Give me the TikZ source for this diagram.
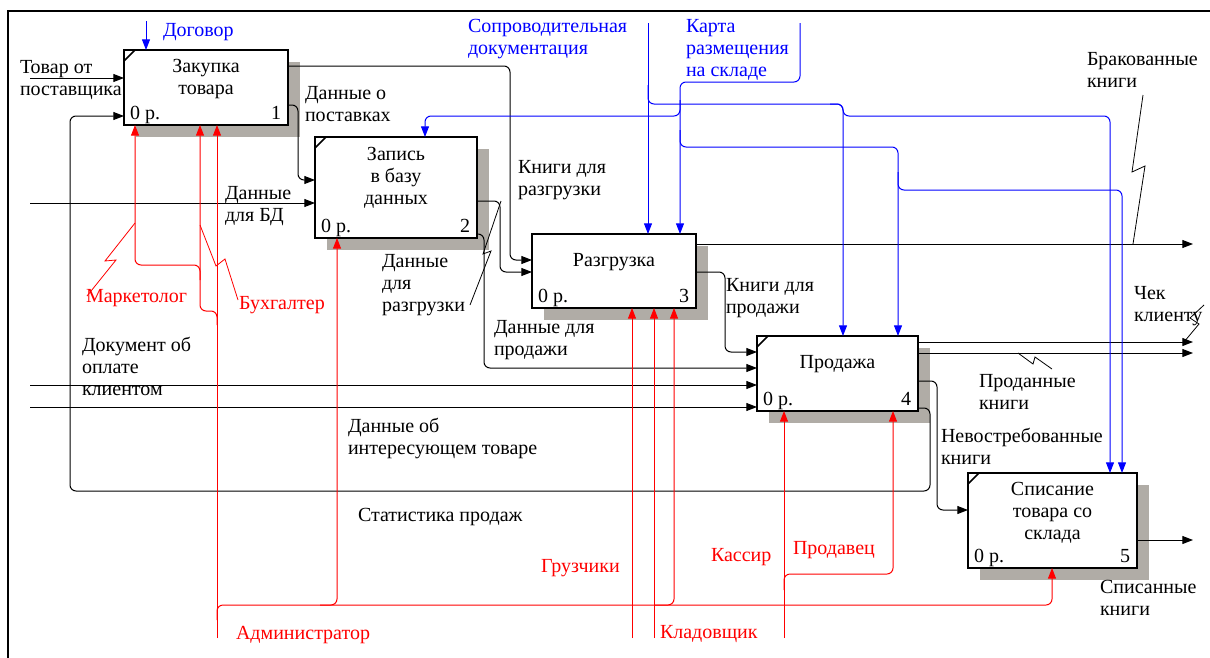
\documentclass[tikz,border=0pt]{standalone}
\usepackage{fontspec}
\setmainfont{Liberation Serif}
\usetikzlibrary{arrows.meta,calc}
\pgfdeclarelayer{background}
\pgfsetlayers{background,main}
\definecolor{mechred}{RGB}{255,0,0}
\definecolor{ctrlblue}{RGB}{0,0,255}
\definecolor{stipple}{RGB}{176,172,166}
\begin{document}
\begin{tikzpicture}[x=0.75pt,y=-0.75pt,
  every node/.style={inner sep=0pt, outer sep=0pt, font=\fontsize{15pt}{16.75pt}\selectfont},
  funcbox/.style 2 args={draw, line width=1.5pt, fill=white,
    minimum width=#1*0.75pt, minimum height=#2*0.75pt},
  arrowend/.style={-{Triangle[length=8pt,width=6pt]}},
  flow/.style={draw=black, line width=0.75pt, rounded corners=4.5pt},
  ctrl/.style={draw=ctrlblue, line width=0.75pt, rounded corners=4.5pt},
  mech/.style={draw=mechred, line width=0.75pt, rounded corners=4.5pt},
  squig/.style={draw=black, line width=0.6pt},
  rsquig/.style={draw=mechred, line width=0.6pt},
  lbl/.style={anchor=north west, align=left},
  boxtitle/.style={anchor=north, align=center},
]
\useasboundingbox (0,0) rectangle (1210,657);

% frame
\draw[line width=1.5pt] (8,662) -- (8,11) -- (1214,11);

% activity boxes
\node[funcbox={164}{75}]  (b1) at (206,87.5) {};
\node[funcbox={162}{101}] (b2) at (396,187.5) {};
\node[funcbox={164}{74}]  (b3) at (614,271) {};
\node[funcbox={161}{75}]  (b4) at (837.5,373.5) {};
\node[funcbox={169}{95}]  (b5) at (1052.5,520.5) {};

\begin{pgfonlayer}{background}
  \foreach \bx in {b1,b2,b3,b4,b5}
    \fill[stipple] ($(\bx.north west)+(12,12)$) rectangle ($(\bx.south east)+(12,12)$);
\end{pgfonlayer}

\foreach \bx in {b1,b2,b4,b5}
  \draw[line width=1.1pt] ($(\bx.north west)+(0,11)$) -- ($(\bx.north west)+(11,0)$);

% box contents
\node[boxtitle] (n1) at ($(b1.north)+(0,9)$) {Закупка\\товара};
\node[boxtitle] (n2) at ($(b2.north)+(0,10)$) {Запись\\в базу\\данных};
\node[boxtitle] (n3) at ($(b3.north)+(0,19)$) {Разгрузка};
\node[boxtitle] (n4) at ($(b4.north)+(0,19)$) {Продажа};
\node[boxtitle] (n5) at ($(b5.north)+(0,9)$) {Списание\\товара со\\склада};
\foreach \bx/\num in {b1/1,b2/2,b3/3,b4/4,b5/5}{
  \node[anchor=base west] (c\bx) at ($(\bx.south west)+(6,-6)$) {0 р.};
  \node[anchor=base east] (k\bx) at ($(\bx.south east)+(-7,-6)$) {\num};
}

% inputs from the border
\coordinate (inA) at (30,78);
\coordinate (inB) at (30,203);
\coordinate (inC) at (30,385);
\coordinate (inD) at (30,407);
\draw[flow,arrowend] (inA) -- (b1.west |- inA);
\draw[flow,arrowend] (inB) -- (b2.west |- inB);
\draw[flow,arrowend] (inC) -- (b4.west |- inC);
\draw[flow,arrowend] (inD) -- (b4.west |- inD);

% box to box flows
\draw[flow,arrowend] (b1.east |- 0,105) -- (298,105) -- (298,180) -- (b2.west |- 0,180);
\draw[flow,arrowend] (b1.east |- 0,66) -- (510,66) -- (510,260) -- (b3.west |- 0,260);
\draw[flow,arrowend] (b2.east |- 0,201) -- (500,201) -- (500,272) -- (b3.west |- 0,272);
\draw[flow,arrowend] (b2.east |- 0,234) -- (484,234) -- (484,368) -- (b4.west |- 0,368);
\draw[flow,arrowend] (b3.east |- 0,272) -- (725,272) -- (725,352) -- (b4.west |- 0,352);
\draw[flow,arrowend] (b4.east |- 0,381) -- (937,381) -- (937,510) -- (b5.west |- 0,510);
\draw[flow,arrowend] (b4.east |- 0,408) -- (930,408) -- (930,491) -- (70,491) -- (70,116) -- (b1.west |- 0,116);

% outputs to the border
\coordinate (outA) at (1193,244);
\coordinate (outB) at (1193,342);
\coordinate (outC) at (1193,353);
\coordinate (outD) at (1193,540);
\draw[flow,arrowend] (b3.east |- outA) -- (outA);
\draw[flow,arrowend] (b4.east |- outB) -- (outB);
\draw[flow,arrowend] (b4.east |- outC) -- (outC);
\draw[flow,arrowend] (b5.east |- outD) -- (outD);

% label leaders
\draw[squig] (470,305) -- (491,251) -- (483,254) -- (501,201);
\draw[squig] (1143,95) -- (1132,172) -- (1145,166) -- (1133,244);
\draw[squig] (1204,305) -- (1190,318) -- (1199,324) -- (1184,342);
\draw[squig] (1018,353) -- (1033,364) -- (1035,357) -- (1052,369);
\draw[rsquig] (87,296) -- (116,260) -- (105,261) -- (135,223);
\draw[rsquig] (238,300) -- (225,259) -- (216,266) -- (200,225);

% controls
\coordinate (cA) at (146,21);
\coordinate (cB) at (648,23);
\coordinate (cC) at (800,23);
\draw[ctrl,arrowend] (cA) -- (b1.north -| cA);
\draw[ctrl,arrowend] (cB) -- (b3.north -| cB);
\draw[ctrl,arrowend] (648,85) -- (648,104) -- (843,104) -- (b4.north -| 843,0);
\draw[ctrl,arrowend] (830,104) -- (843,104) -- (843,116) -- (1110,116) -- (b5.north -| 1110,0);
\draw[ctrl,arrowend] (cC) -- (800,82) -- (680,82) -- (b3.north -| 680,0);
\draw[ctrl,arrowend] (680,100) -- (680,116) -- (425,116) -- (b2.north -| 425,0);
\draw[ctrl,arrowend] (680,130) -- (680,147) -- (898,147) -- (b4.north -| 898,0);
\draw[ctrl,arrowend] (898,172) -- (898,190) -- (1122,190) -- (b5.north -| 1122,0);

% mechanisms
\coordinate (mA) at (217,638);
\coordinate (mB) at (632,638);
\coordinate (mC) at (654,638);
\coordinate (mD) at (784,638);
\draw[mech,arrowend] (mA) -- (b1.south -| mA);
\draw[mech,arrowend] (217,325) -- (217,311) -- (200,311) -- (b1.south -| 200,0);
\draw[mech,arrowend] (200,280) -- (200,265) -- (135,265) -- (b1.south -| 135,0);
\draw[mech,arrowend] (217,620) -- (217,605) -- (1052,605) -- (b5.south -| 1052,0);
\draw[mech,arrowend] (320,605) -- (337,605) -- (b2.south -| 337,0);
\draw[mech,arrowend] (655,605) -- (674,605) -- (b3.south -| 674,0);
\draw[mech,arrowend] (mB) -- (b3.south -| mB);
\draw[mech,arrowend] (mC) -- (b3.south -| mC);
\draw[mech,arrowend] (mD) -- (b4.south -| mD);
\draw[mech,arrowend] (784,590) -- (784,574) -- (893,574) -- (b4.south -| 893,0);

% arrow labels
\node[lbl] (tA) at (20,60) {Товар от\\поставщика};
\node[lbl] (tB) at (305,86) {Данные о\\поставках};
\node[lbl] (tC) at (518,160) {Книги для\\разгрузки};
\node[lbl] (tD) at (225,186) {Данные\\для БД};
\node[lbl] (tE) at (382,254) {Данные\\для\\разгрузки};
\node[lbl] (tF) at (494,320) {Данные для\\продажи};
\node[lbl] (tG) at (726,278) {Книги для\\продажи};
\node[lbl] (tH) at (82,337) {Документ об\\оплате\\клиентом};
\node[lbl] (tI) at (348,418) {Данные об\\интересующем товаре};
\node[lbl] (tJ) at (358,508) {Статистика продаж};
\node[lbl] (tK) at (941,428) {Невостребованные\\книги};
\node[lbl] (tL) at (979,374) {Проданные\\книги};
\node[lbl] (tM) at (1134,286) {Чек\\клиенту};
\node[lbl] (tN) at (1087,52) {Бракованные\\книги};
\node[lbl] (tO) at (1100,580) {Списанные\\книги};
\node[lbl,text=ctrlblue] (tP) at (163,23) {Договор};
\node[lbl,text=ctrlblue] (tQ) at (468,19) {Сопроводительная\\документация};
\node[lbl,text=ctrlblue] (tR) at (686,19) {Карта\\размещения\\на складе};
\node[lbl,text=mechred] (tS) at (86,289) {Маркетолог};
\node[lbl,text=mechred] (tT) at (239,296) {Бухгалтер};
\node[lbl,text=mechred] (tU) at (236,626) {Администратор};
\node[lbl,text=mechred] (tV) at (541,559) {Грузчики};
\node[lbl,text=mechred] (tW) at (660,625) {Кладовщик};
\node[lbl,text=mechred] (tX) at (711,548) {Кассир};
\node[lbl,text=mechred] (tY) at (793,541) {Продавец};
\end{tikzpicture}
\end{document}
